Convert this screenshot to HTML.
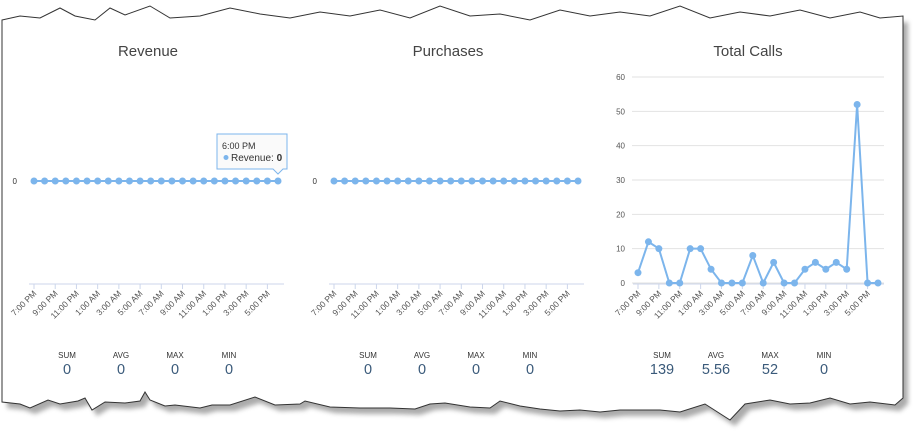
<!DOCTYPE html>
<html><head><meta charset="utf-8"><style>
html,body{margin:0;padding:0;background:#fff;}
svg{display:block;font-family:"Liberation Sans",sans-serif;}
</style></head><body>
<svg id="c" width="920" height="438" viewBox="0 0 920 438">
<defs><filter id="bl" x="-5%" y="-5%" width="110%" height="110%"><feGaussianBlur stdDeviation="2.5"/></filter>
<path id="paper" d="M2,20 L20,16 L40,18 L60,8 L75,16 L95,20 L110,8 L125,15 L150,6 L170,18 L200,16 L230,8 L260,14 L290,18 L320,12 L350,16 L380,10 L410,18 L440,6 L470,16 L500,14 L530,20 L560,10 L590,16 L620,12 L650,16 L680,6 L710,18 L740,12 L770,16 L800,10 L830,18 L860,12 L880,18 L903,16 L903,398 L895,405 L870,402 L850,404 L830,398 L810,403 L790,404 L770,400 L745,404 L730,420 L705,404 L680,412 L660,410 L640,410 L620,410 L600,412 L580,410 L560,411 L540,409 L520,406 L500,401 L490,408 L470,407 L445,403 L430,404 L415,409 L390,408 L360,408 L330,407 L305,401 L300,404 L275,405 L255,397 L230,405 L212,405 L200,408 L175,405 L165,406 L150,400 L145,392 L140,401 L125,403 L105,402 L92,410 L85,398 L78,401 L60,404 L48,400 L30,408 L20,404 L2,402 Z"/></defs>
<use href="#paper" fill="#666" opacity="0.55" transform="translate(5,6)" filter="url(#bl)"/>
<use href="#paper" fill="#fff" stroke="#333" stroke-width="1"/>
</svg>
<script>
const categories=["7:00 PM","8:00 PM","9:00 PM","10:00 PM","11:00 PM","12:00 AM","1:00 AM","2:00 AM","3:00 AM","4:00 AM","5:00 AM","6:00 AM","7:00 AM","8:00 AM","9:00 AM","10:00 AM","11:00 AM","12:00 PM","1:00 PM","2:00 PM","3:00 PM","4:00 PM","5:00 PM","6:00 PM"];
const revenueValues=[0,0,0,0,0,0,0,0,0,0,0,0,0,0,0,0,0,0,0,0,0,0,0,0];
const purchaseValues=[0,0,0,0,0,0,0,0,0,0,0,0,0,0,0,0,0,0,0,0,0,0,0,0];
const callValues=[3,12,10,0,0,10,10,4,0,0,0,8,0,6,0,0,4,6,4,6,4,52,0,0];
const callTicks=[0,10,20,30,40,50,60];
const statLabels=["SUM","AVG","MAX","MIN"];
const revenueStats=["0","0","0","0"];
const purchaseStats=["0","0","0","0"];
const callStats=["139","5.56","52","0"];
const NS="http://www.w3.org/2000/svg";
const svg=document.getElementById('c');
function el(t,a,p){const e=document.createElementNS(NS,t);for(const k in a)e.setAttribute(k,a[k]);(p||svg).appendChild(e);return e;}
function panel(name,title,vals,stats,x0,x1,titleX,statX,yTicks,zeroY,topY){
  const g=el('g',{});
  
  
  const t=el('text',{x:titleX,y:56,'text-anchor':'middle','font-size':15,fill:'#444'},g);t.textContent=title;
  
  
  const n=vals.length;
  const xs=i=>x0+(x1-x0)*i/(n-1);
  let ys;
  if(yTicks){const mx=yTicks[yTicks.length-1];ys=v=>zeroY-(zeroY-topY)*v/mx;
    yTicks.forEach(v=>{const l=el('line',{x1:x0-6,x2:x1+6,y1:ys(v),y2:ys(v),stroke:'#e2e2e2'},g);
      
      
      const tx=el('text',{x:x0-13,y:ys(v)+3,'text-anchor':'end','font-size':8,fill:'#555'},g);tx.textContent=v;
      
      });
  } else {ys=v=>zeroY;
    const tx=el('text',{x:x0-17,y:zeroY+3,'text-anchor':'end','font-size':8,fill:'#333'},g);tx.textContent='0';
    
    }
  const axY=284;
  const ax=el('line',{x1:x0-5,x2:x1+6,y1:axY,y2:axY,stroke:'#ccd6eb'},g);
  
  
  categories.forEach((c,i)=>{if(i%2)return;const x=xs(i);
    el('line',{x1:x,x2:x,y1:axY,y2:axY+5,stroke:'#ccd6eb'},g);
    const tx=el('text',{x:x+3,y:axY+10,'text-anchor':'end','font-size':8.5,fill:'#555',transform:`rotate(-45 ${x+3} ${axY+10})`},g);tx.textContent=c;
    
    });
  const pl=el('polyline',{points:vals.map((v,i)=>xs(i)+','+ys(v)).join(' '),fill:'none',stroke:'#7cb5ec','stroke-width':2},g);
  
  
  vals.forEach((v,i)=>{const c=el('circle',{cx:xs(i),cy:ys(v),r:3.5,fill:'#7cb5ec'},g);
    
    });
  statLabels.forEach((s,i)=>{const x=statX+i*54;
    const a=el('text',{x:x,y:358,'text-anchor':'middle','font-size':8,fill:'#333'},g);a.textContent=s;
    
    
    const b=el('text',{x:x,y:374,'text-anchor':'middle','font-size':14.5,fill:'#3a5a7a'},g);b.textContent=stats[i];
    
    });
  return {xs,ys};
}
const r=panel('revenue','Revenue',revenueValues,revenueStats,34,278,148,67,null,181);
panel('purchases','Purchases',purchaseValues,purchaseStats,334,578,448,368,null,181);
panel('total-calls','Total Calls',callValues,callStats,638,878,748,662,callTicks,283,77);
const tg=el('g',{});


const tx0=r.xs(23);
el('path',{d:`M217,134 H287 V169 H${tx0+5} L${tx0} 174 L${tx0-5} 169 H217 Z`,fill:'#fafafa',stroke:'#7cb5ec','stroke-width':1},tg);
const t1=el('text',{x:222,y:149,'font-size':9,fill:'#333'},tg);t1.textContent=categories[23];
el('circle',{cx:226,cy:157.5,r:2.5,fill:'#7cb5ec'},tg);
const t2=el('text',{x:231,y:161,'font-size':10,fill:'#333'},tg);t2.innerHTML='Revenue: <tspan font-weight="bold">'+revenueValues[23]+'</tspan>';
</script>
</body></html>
